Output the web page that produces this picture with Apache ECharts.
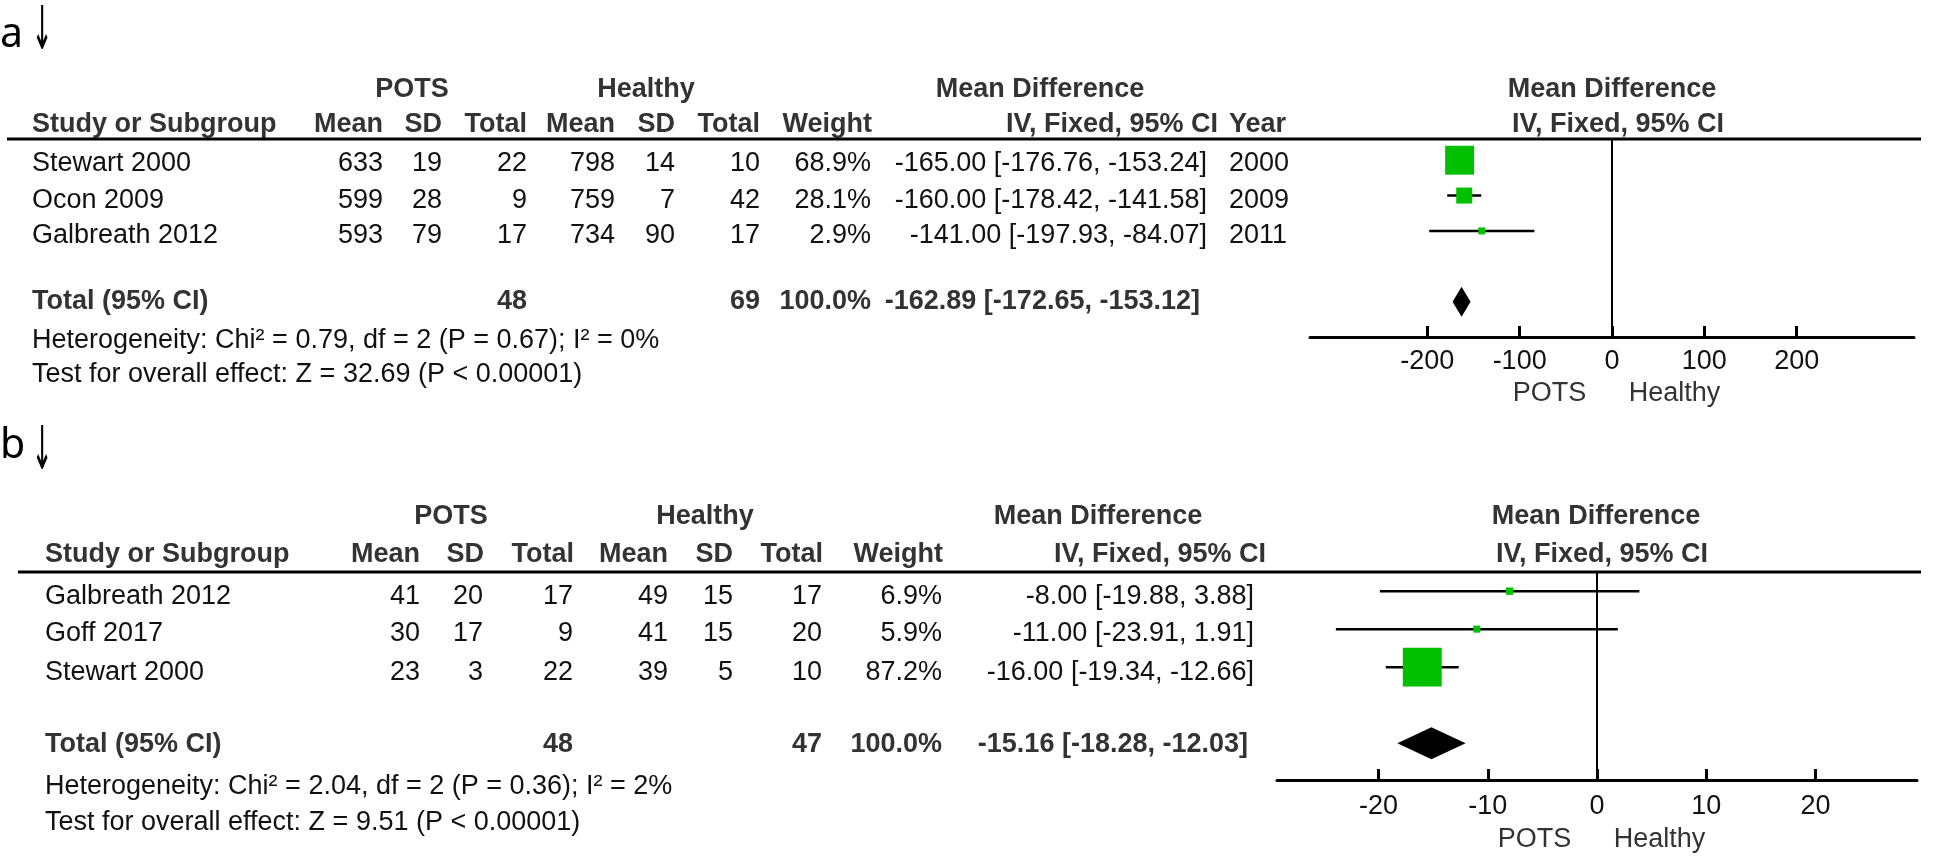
<!DOCTYPE html>
<html>
<head>
<meta charset="utf-8">
<script src="https://cdn.jsdelivr.net/npm/echarts@6/dist/echarts.min.js"></script>
<style>
  html, body { margin: 0; padding: 0; background: #fff; }
  #main { width: 1946px; height: 859px; }
</style>
</head>
<body>
<div id="main"></div>
<script>
// panel a data
const studiesA = ['Stewart 2000', 'Ocon 2009', 'Galbreath 2012'];
const potsMeanA = [633, 599, 593];
const potsSdA = [19, 28, 79];
const potsNA = [22, 9, 17];
const healthyMeanA = [798, 759, 734];
const healthySdA = [14, 7, 90];
const healthyNA = [10, 42, 17];
const weightA = [68.9, 28.1, 2.9];
const mdA = [-165.00, -160.00, -141.00];
const loA = [-176.76, -178.42, -197.93];
const hiA = [-153.24, -141.58, -84.07];
const yearA = [2000, 2009, 2011];
const totalNA = [48, 69];
const totalA = [-162.89, -172.65, -153.12];
const hetA = 'Heterogeneity: Chi\u00b2 = 0.79, df = 2 (P = 0.67); I\u00b2 = 0%';
const testA = 'Test for overall effect: Z = 32.69 (P < 0.00001)';
const ticksA = [-200, -100, 0, 100, 200];

// panel b data
const studiesB = ['Galbreath 2012', 'Goff 2017', 'Stewart 2000'];
const potsMeanB = [41, 30, 23];
const potsSdB = [20, 17, 3];
const potsNB = [17, 9, 22];
const healthyMeanB = [49, 41, 39];
const healthySdB = [15, 15, 5];
const healthyNB = [17, 20, 10];
const weightB = [6.9, 5.9, 87.2];
const mdB = [-8.00, -11.00, -16.00];
const loB = [-19.88, -23.91, -19.34];
const hiB = [3.88, 1.91, -12.66];
const totalNB = [48, 47];
const totalB = [-15.16, -18.28, -12.03];
const hetB = 'Heterogeneity: Chi\u00b2 = 2.04, df = 2 (P = 0.36); I\u00b2 = 2%';
const testB = 'Test for overall effect: Z = 9.51 (P < 0.00001)';
const ticksB = [-20, -10, 0, 10, 20];

const FONT = '"Liberation Sans", Arial, sans-serif';
const GREEN = '#00c000';

function txt(text, x, y, align, bold) {
  return {
    type: 'text', x: x, y: y, silent: true,
    style: {
      text: String(text), align: align, verticalAlign: 'middle',
      fontFamily: FONT, fontSize: 27, fontWeight: bold ? 'bold' : 'normal',
      fill: bold ? '#333' : '#111'
    }
  };
}

function ci(md, lo, hi) {
  return md.toFixed(2) + ' [' + lo.toFixed(2) + ', ' + hi.toFixed(2) + ']';
}

const panels = [
  {
    letter: 'a', studies: studiesA, cols: [potsMeanA, potsSdA, potsNA, healthyMeanA, healthySdA, healthyNA],
    weight: weightA, md: mdA, lo: loA, hi: hiA, year: yearA, totN: totalNA, tot: totalA,
    het: hetA, test: testA, ticks: ticksA, range: 327, sizeK: 1.77, diamondH: 15,
    L: {
      letterY: 35, arrowY: 33, h1: 90, h2: 125, rows: [164, 201, 236], totY: 302, hetY: 341, testY: 375,
      lineY: 139, lineX: [7, 1921], nameX: 32,
      colR: [383, 442, 527, 615, 675, 760], wR: 871, hdrR: [383, 442, 527, 615, 675, 760, 872],
      ciR: 1207, ciHdrR: 1218, totCiR: 1200, yearL: 1229,
      potsC: 412, healthyC: 646, mdC: 1040, plotC: 1612, plotIvC: 1618,
      grid: { left: 1310, width: 604, top: 139, height: 198 }, yMin: -0.6, yMax: 5,
      labelMargin: 11, nameGap: 43
    }
  },
  {
    letter: 'b', studies: studiesB, cols: [potsMeanB, potsSdB, potsNB, healthyMeanB, healthySdB, healthyNB],
    weight: weightB, md: mdB, lo: loB, hi: hiB, year: null, totN: totalNB, tot: totalB,
    het: hetB, test: testB, ticks: ticksB, range: 29.3, sizeK: 2.04, diamondH: 16,
    L: {
      letterY: 446, arrowY: 453, h1: 517, h2: 555, rows: [597, 634, 673], totY: 745, hetY: 787, testY: 823,
      lineY: 572, lineX: [18, 1921], nameX: 45,
      colR: [420, 483, 573, 668, 733, 822], wR: 942, hdrR: [420, 484, 574, 668, 733, 823, 943],
      ciR: 1254, ciHdrR: 1266, totCiR: 1248, yearL: null,
      potsC: 451, healthyC: 705, mdC: 1098, plotC: 1596, plotIvC: 1602,
      grid: { left: 1277, width: 640, top: 571, height: 209 }, yMin: -0.53, yMax: 4.97,
      labelMargin: 13, nameGap: 46
    }
  }
];

const graphics = [];
const grids = [], xAxes = [], yAxes = [], series = [];
const hdr = ['Mean', 'SD', 'Total', 'Mean', 'SD', 'Total', 'Weight'];

panels.forEach(function (p, k) {
  const L = p.L;
  // panel letter and arrow
  graphics.push({ type: 'text', x: 0, y: L.letterY, silent: true,
    style: { text: p.letter, fontFamily: '"Noto Sans", sans-serif', fontSize: 41, fill: '#000', align: 'left', verticalAlign: 'middle' } });
  graphics.push({ type: 'text', x: 42, y: L.arrowY, scaleX: 0.42, silent: true,
    style: { text: '\u2193', fontFamily: '"DejaVu Sans", sans-serif', fontSize: 60, fill: '#000', align: 'center', verticalAlign: 'middle' } });

  // headers
  graphics.push(txt('POTS', L.potsC, L.h1, 'center', true));
  graphics.push(txt('Healthy', L.healthyC, L.h1, 'center', true));
  graphics.push(txt('Mean Difference', L.mdC, L.h1, 'center', true));
  graphics.push(txt('Mean Difference', L.plotC, L.h1, 'center', true));
  graphics.push(txt('Study or Subgroup', L.nameX, L.h2, 'left', true));
  hdr.forEach(function (h, i) { graphics.push(txt(h, L.hdrR[i], L.h2, 'right', true)); });
  graphics.push(txt('IV, Fixed, 95% CI', L.ciHdrR, L.h2, 'right', true));
  if (L.yearL) graphics.push(txt('Year', L.yearL, L.h2, 'left', true));
  graphics.push(txt('IV, Fixed, 95% CI', L.plotIvC, L.h2, 'center', true));
  graphics.push({ type: 'line', silent: true,
    shape: { x1: L.lineX[0], y1: L.lineY, x2: L.lineX[1], y2: L.lineY },
    style: { stroke: '#000', lineWidth: 3 } });

  // study rows
  p.studies.forEach(function (s, i) {
    const y = L.rows[i];
    graphics.push(txt(s, L.nameX, y, 'left', false));
    p.cols.forEach(function (c, j) { graphics.push(txt(c[i], L.colR[j], y, 'right', false)); });
    graphics.push(txt(p.weight[i].toFixed(1) + '%', L.wR, y, 'right', false));
    graphics.push(txt(ci(p.md[i], p.lo[i], p.hi[i]), L.ciR, y, 'right', false));
    if (p.year) graphics.push(txt(p.year[i], L.yearL, y, 'left', false));
  });

  // total rows
  graphics.push(txt('Total (95% CI)', L.nameX, L.totY, 'left', true));
  graphics.push(txt(p.totN[0], L.colR[2], L.totY, 'right', true));
  graphics.push(txt(p.totN[1], L.colR[5], L.totY, 'right', true));
  graphics.push(txt('100.0%', L.wR, L.totY, 'right', true));
  graphics.push(txt(ci(p.tot[0], p.tot[1], p.tot[2]), L.totCiR, L.totY, 'right', true));
  graphics.push(txt(p.het, L.nameX, L.hetY, 'left', false));
  graphics.push(txt(p.test, L.nameX, L.testY, 'left', false));

  // forest plot
  grids.push(L.grid);
  xAxes.push({
    type: 'value', gridIndex: k, min: -p.range, max: p.range, position: 'bottom',
    axisLine: { onZero: false, lineStyle: { color: '#000', width: 3 } },
    axisTick: { customValues: p.ticks, inside: true, length: 11, lineStyle: { color: '#000', width: 3 } },
    axisLabel: { customValues: p.ticks, color: '#111', fontSize: 27, fontFamily: FONT, margin: L.labelMargin },
    splitLine: { show: false },
    name: '{p|POTS}{g|}{h|Healthy}', nameLocation: 'middle', nameGap: L.nameGap,
    nameTextStyle: {
      rich: {
        p: { width: 100, align: 'right', fontSize: 27, fontFamily: FONT, color: '#333' },
        g: { width: 25 },
        h: { width: 100, align: 'left', fontSize: 27, fontFamily: FONT, color: '#333' }
      }
    }
  });
  yAxes.push({ type: 'value', gridIndex: k, inverse: true, min: L.yMin, max: L.yMax, show: false });

  // zero line
  series.push({
    type: 'line', xAxisIndex: k, yAxisIndex: k, symbol: 'none', silent: true,
    data: [[0, L.yMin], [0, L.yMax]], lineStyle: { color: '#000', width: 2 }
  });
  // confidence intervals
  series.push({
    type: 'custom', xAxisIndex: k, yAxisIndex: k, silent: true,
    data: p.studies.map(function (s, i) { return [p.lo[i], p.hi[i], i]; }),
    renderItem: function (params, api) {
      const a = api.coord([api.value(0), api.value(2)]);
      const b = api.coord([api.value(1), api.value(2)]);
      return { type: 'line', shape: { x1: a[0], y1: a[1], x2: b[0], y2: b[1] },
        style: { stroke: '#000', lineWidth: 2.5 } };
    }
  });
  // study squares sized by weight
  series.push({
    type: 'scatter', xAxisIndex: k, yAxisIndex: k, silent: true, symbol: 'rect',
    data: p.studies.map(function (s, i) { return [p.md[i], i, p.weight[i]]; }),
    symbolSize: function (v) { return Math.max(7, p.sizeK * Math.pow(v[2], 0.66)); },
    itemStyle: { color: GREEN, opacity: 1 }
  });
  // pooled diamond
  series.push({
    type: 'custom', xAxisIndex: k, yAxisIndex: k, silent: true,
    data: [[p.tot[1], p.tot[0], p.tot[2], 4]],
    renderItem: function (params, api) {
      const l = api.coord([api.value(0), api.value(3)]);
      const c = api.coord([api.value(1), api.value(3)]);
      const r = api.coord([api.value(2), api.value(3)]);
      const h = p.diamondH;
      return { type: 'polygon',
        shape: { points: [[l[0], l[1]], [c[0], c[1] - h], [r[0], r[1]], [c[0], c[1] + h]] },
        style: { fill: '#000' } };
    }
  });
});

const chart = echarts.init(document.getElementById('main'));
chart.setOption({
  backgroundColor: '#fff',
  animation: false,
  grid: grids,
  xAxis: xAxes,
  yAxis: yAxes,
  series: series,
  graphic: graphics
});
</script>
</body>
</html>
